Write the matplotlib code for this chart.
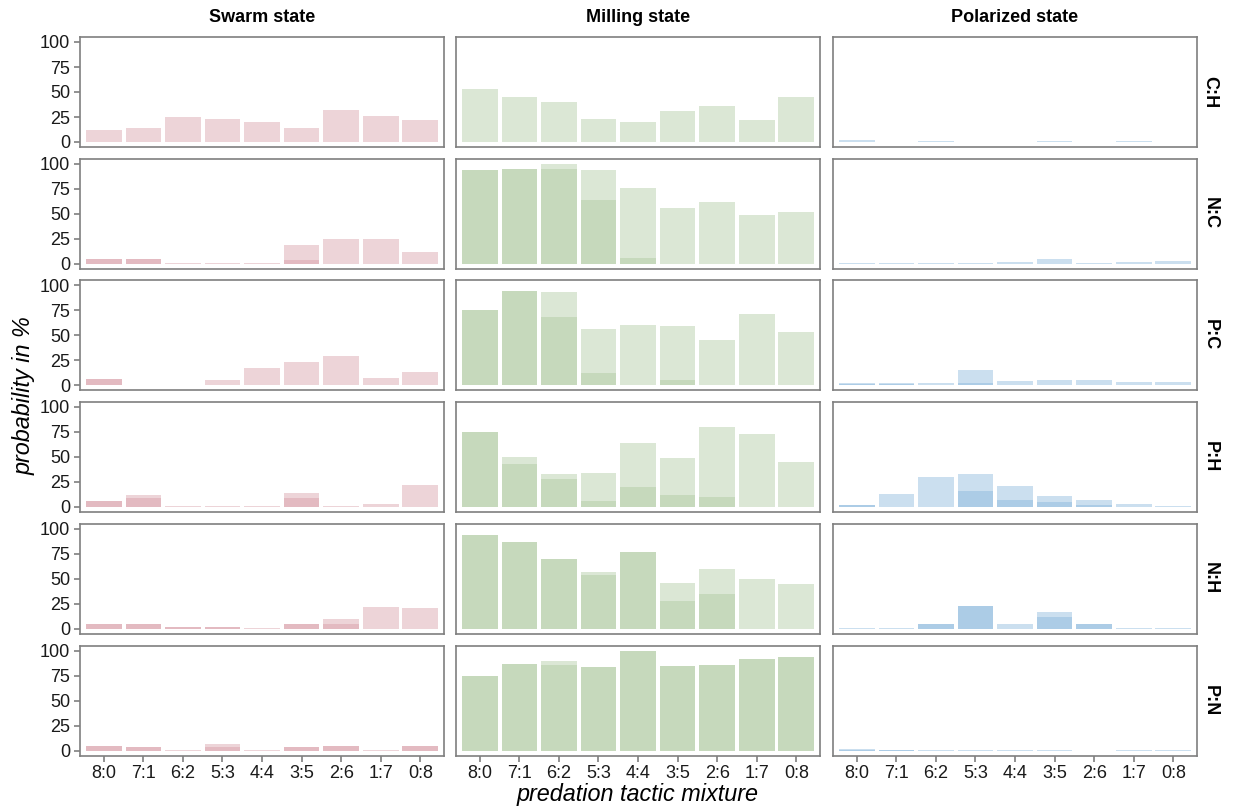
import matplotlib
matplotlib.use("Agg")
import matplotlib.pyplot as plt
import numpy as np

plt.rcParams['font.family'] = ['Liberation Sans', 'DejaVu Sans']

mixtures = ["8:0", "7:1", "6:2", "5:3", "4:4", "3:5", "2:6", "1:7", "0:8"]
pairs = ["C:H", "N:C", "P:C", "P:H", "N:H", "P:N"]
states = ["Swarm state", "Milling state", "Polarized state"]

# two overlapping series per panel (rows = pairs, columns = mixtures)
swarm_a = [[12, 14, 25, 23, 20, 14, 32, 26, 22],
           [5, 5, 0.5, 0.5, 0.5, 19, 25, 25, 12],
           [6, 0.5, 0.5, 5, 17, 23, 29, 7, 13],
           [6, 12, 0.3, 0.3, 0.3, 14, 0.3, 3, 22],
           [5, 5, 1.5, 1.5, 0.3, 5, 10, 22, 21],
           [5, 4, 0.3, 7, 0.3, 3.5, 4.5, 0.3, 4.5]]
swarm_b = [[0, 0, 0, 0, 0, 0, 0, 0, 0],
           [5, 5, 0, 0, 0, 4, 0, 0, 0],
           [6, 0, 0, 0, 0, 0, 0, 0, 0],
           [6, 9, 0, 0, 0, 9, 0, 0, 0],
           [5, 5, 1.5, 1.5, 0, 5, 5, 0, 0],
           [5, 4, 0, 3.5, 0, 3.5, 4.5, 0, 4.5]]

milling_a = [[53, 45, 40, 23, 20, 31, 36, 22, 45],
             [94, 95, 100, 94, 76, 56, 62, 49, 52],
             [75, 94, 93, 56, 60, 59, 45, 71, 53],
             [75, 50, 33, 34, 64, 49, 80, 73, 45],
             [94, 87, 70, 57, 77, 46, 60, 50, 45],
             [75, 87, 90, 84, 100, 85, 86, 92, 94]]
milling_b = [[0, 0, 0, 0, 0, 0, 0, 0, 0],
             [94, 95, 95, 64, 6, 0, 0, 0, 0],
             [75, 94, 68, 12, 0, 5, 0, 0, 0],
             [75, 43, 28, 6, 20, 12, 10, 0, 0],
             [94, 87, 70, 54, 77, 28, 35, 0, 0],
             [75, 87, 86, 84, 100, 85, 86, 92, 94]]

polar_a = [[2, 0.5, 1, 0.3, 0.3, 1.3, 0.5, 1.3, 0.5],
           [1, 0.5, 0.5, 1, 2, 5, 0.5, 1.5, 2.3],
           [1.7, 1.7, 2.3, 15, 4, 5.5, 5.5, 2.7, 2.7],
           [1.7, 13, 30, 33, 21, 11, 7, 2.3, 0.5],
           [1, 0.5, 5, 23, 5, 17, 5, 1, 0.3],
           [1.3, 0.7, 0.3, 1, 0.3, 0.3, 0, 0.5, 0.5]]
polar_b = [[0, 0, 0, 0, 0, 0, 0, 0, 0],
           [0, 0, 0, 0, 0, 0, 0, 0, 0],
           [1, 1, 0, 2, 0, 0, 0, 0, 0],
           [1.5, 0, 0, 16, 7, 4.7, 2, 0, 0],
           [0, 0, 5, 23, 0, 12, 5, 0, 0],
           [1, 0.5, 0, 0, 0, 0, 0, 0, 0]]

series = [(swarm_a, swarm_b), (milling_a, milling_b), (polar_a, polar_b)]
colors = ["#d4949f", "#a7c598", "#7fb1d9"]

W, H = 1237, 809
fig = plt.figure(figsize=(W / 100, H / 100), dpi=100)

lefts = [80, 456, 833]
pw = 364
tops = [37, 158.5, 280, 401.5, 523.5, 645.5]
ph = 110
x = np.arange(1, 10)
frame = "#7f7f7f"

for c in range(3):
    a_all, b_all = series[c]
    for r in range(6):
        ax = fig.add_axes([lefts[c] / W, 1 - (tops[r] + ph) / H, pw / W, ph / H])
        ax.bar(x, a_all[r], width=0.9, color=colors[c], alpha=0.4, linewidth=0)
        ax.bar(x, b_all[r], width=0.9, color=colors[c], alpha=0.4, linewidth=0)
        ax.set_xlim(0.4, 9.6)
        ax.set_ylim(-5, 105)
        for s in ax.spines.values():
            s.set_color(frame)
            s.set_linewidth(1.2)
        ax.set_yticks([0, 25, 50, 75, 100])
        ax.set_xticks(x)
        ax.tick_params(colors=frame, labelcolor="#1a1a1a", labelsize=13,
                       length=4, width=1.2, pad=3)
        if c == 0:
            ax.set_yticklabels(["0", "25", "50", "75", "100"])
        else:
            ax.tick_params(axis="y", left=False, labelleft=False)
        if r == 5:
            ax.set_xticklabels(mixtures)
        else:
            ax.tick_params(axis="x", bottom=False, labelbottom=False)
        if c == 2:
            ax.text(1.036, 0.5, pairs[r], transform=ax.transAxes, rotation=270,
                    ha="center", va="center", fontsize=13, fontweight="bold")
    fig.text((lefts[c] + pw / 2) / W, 1 - 18 / H, states[c], ha="center", va="center",
             fontsize=13, fontweight="bold")

fig.text(638 / W, 1 - 795 / H, "predation tactic mixture", ha="center", va="center",
         fontsize=16.8, style="italic")
fig.text(24 / W, 1 - 396 / H, "probability in %", ha="center", va="center",
         fontsize=16.8, style="italic", rotation=90)

fig.savefig("out.png", dpi=100)
